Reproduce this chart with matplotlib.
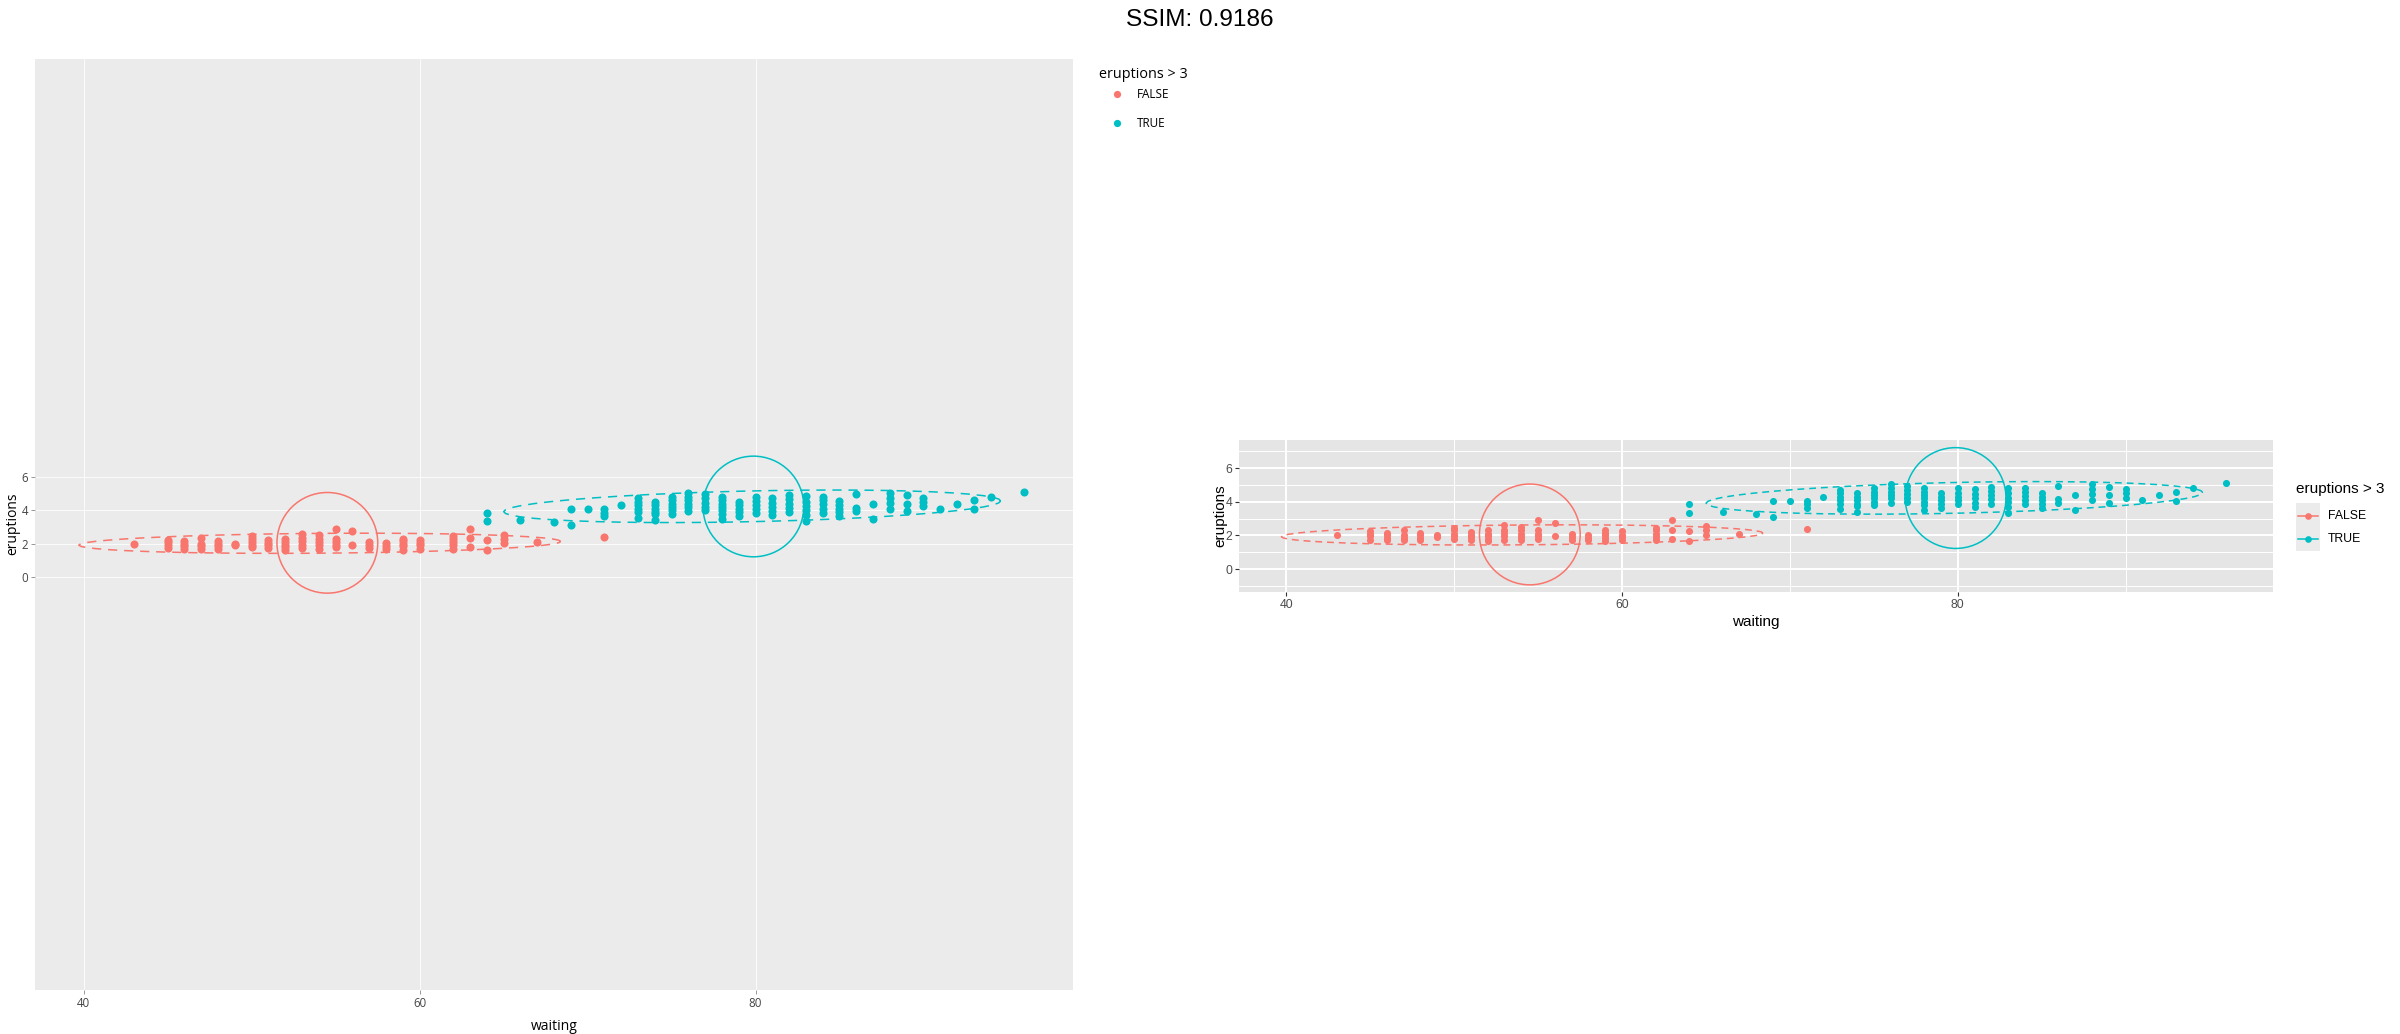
import numpy as np
import matplotlib.pyplot as plt
from matplotlib.patches import Circle, Rectangle
from matplotlib.lines import Line2D

# eruptions <= 3 : waiting columns and the eruption values stacked on each
false_waiting = [43, 45, 46, 47, 48, 49, 50, 51, 52, 53, 54, 55, 56, 57, 58,
                 59, 60, 62, 63, 64, 65, 67, 71]
false_eruptions = [
    [2.0],
    [1.75, 1.95, 2.1, 2.25],
    [1.7, 1.85, 2.0, 2.15],
    [1.7, 1.85, 2.0, 2.35],
    [1.7, 1.85, 2.0, 2.15],
    [1.93, 2.0],
    [1.8, 1.95, 2.1, 2.3, 2.45],
    [1.75, 1.9, 2.05, 2.2],
    [1.65, 1.8, 1.95, 2.1, 2.3],
    [1.75, 1.95, 2.15, 2.35, 2.6],
    [1.7, 1.9, 2.1, 2.3, 2.5],
    [1.8, 1.95, 2.1, 2.3, 2.9],
    [1.95, 2.75],
    [1.75, 1.9, 2.1],
    [1.7, 1.85, 2.05],
    [1.65, 1.85, 2.0, 2.15, 2.3],
    [1.7, 1.9, 2.05, 2.25],
    [1.7, 1.9, 2.1, 2.3, 2.45],
    [1.8, 2.35, 2.9],
    [1.65, 2.25],
    [2.05, 2.3, 2.55],
    [2.1],
    [2.4],
]

# eruptions > 3
true_waiting = [64, 66, 68, 69, 70, 71, 72, 73, 74, 75, 76, 77, 78, 79, 80,
                81, 82, 83, 84, 85, 86, 87, 88, 89, 90, 91, 92, 93, 94, 96]
true_eruptions = [
    [3.35, 3.85],
    [3.4],
    [3.3],
    [3.1, 4.05],
    [4.05],
    [3.65, 3.85, 4.05],
    [4.3],
    [3.55, 3.9, 4.1, 4.3, 4.5, 4.7],
    [3.4, 3.75, 3.9, 4.1, 4.3, 4.5],
    [3.8, 4.0, 4.2, 4.4, 4.6, 4.8],
    [3.95, 4.2, 4.4, 4.6, 4.8, 5.05],
    [4.0, 4.2, 4.45, 4.7, 4.95],
    [3.5, 3.8, 4.0, 4.2, 4.4, 4.6, 4.8],
    [3.65, 3.9, 4.1, 4.3, 4.5],
    [3.85, 4.1, 4.3, 4.55, 4.8],
    [3.7, 3.95, 4.2, 4.45, 4.75],
    [3.9, 4.15, 4.4, 4.65, 4.9],
    [3.35, 3.7, 4.0, 4.25, 4.5, 4.85],
    [3.85, 4.1, 4.35, 4.6, 4.8],
    [3.65, 3.9, 4.1, 4.3, 4.55],
    [3.95, 4.15, 4.95],
    [3.5, 4.4],
    [4.1, 4.45, 4.75, 5.05],
    [3.95, 4.4, 4.9],
    [4.25, 4.5, 4.75],
    [4.1],
    [4.4],
    [4.05, 4.6],
    [4.8],
    [5.1],
]

groups = ['FALSE', 'TRUE']
colors = ['#F8766D', '#00BFC4']
x_ticks = [40, 60, 80]
y_ticks = [0, 2, 4, 6]
legend_title = 'eruptions > 3'
title = 'SSIM: 0.9186'

W, H = 2400, 1034


def fbox(x0, y0, x1, y1):
    # pixel box (top-left origin) -> figure fraction rect
    return [x0 / W, 1 - y1 / H, (x1 - x0) / W, (y1 - y0) / H]


def fx(x):
    return x / W


def fy(y):
    return 1 - y / H


def flatten(cols, stacks):
    xs = np.array([c for c, s in zip(cols, stacks) for _ in s], dtype=float)
    ys = np.array([v for s in stacks for v in s], dtype=float)
    return xs, ys


def cov_trob(x, nu=5, maxit=25, tol=0.01):
    # robust t covariance, same iteration as MASS::cov.trob
    n, p = x.shape
    loc = x.mean(axis=0)
    w = np.ones(n)
    for _ in range(maxit):
        w0 = w
        X = x - loc
        _, d, vt = np.linalg.svd(np.sqrt(w / w.sum())[:, None] * X,
                                 full_matrices=False)
        wX = X @ vt.T / d
        Q = (wX ** 2).sum(axis=1)
        w = (nu + p) / (nu + Q)
        loc = (w[:, None] * x).sum(axis=0) / w.sum()
        if np.all(np.abs(w - w0) < tol):
            break
    cov = (np.sqrt(w)[:, None] * X).T @ (np.sqrt(w)[:, None] * X) / n
    return loc, cov


def stat_ellipse(x, y, level=0.95, segments=51):
    pts = np.column_stack([x, y])
    center, cov = cov_trob(pts)
    chol = np.linalg.cholesky(cov).T
    d = len(x) - 1
    fq = d / 2 * ((1 - level) ** (-2 / d) - 1)  # F(2, d) quantile
    radius = np.sqrt(2 * fq)
    t = np.linspace(0, 2 * np.pi, segments)
    unit = np.column_stack([np.cos(t), np.sin(t)])
    return center + radius * unit @ chol


data = [flatten(false_waiting, false_eruptions),
        flatten(true_waiting, true_eruptions)]

fig = plt.figure(figsize=(24, 10.34), dpi=100)
fig.text(0.5, fy(20), title, ha='center', va='center', fontsize=17.6,
         family='Liberation Sans')


def draw(ax, dot, dash, lw):
    for (xs, ys), col in zip(data, colors):
        ax.scatter(xs, ys, s=dot, color=col, linewidths=0, zorder=3)
        e = stat_ellipse(xs, ys)
        ax.plot(e[:, 0], e[:, 1], color=col, lw=lw, linestyle=(0, dash), zorder=4)
        ax.add_patch(Circle((xs.mean(), ys.mean()), 3, fill=False,
                            edgecolor=col, lw=lw, zorder=4))
    for s in ax.spines.values():
        s.set_visible(False)
    ax.set_xticks(x_ticks)
    ax.set_yticks(y_ticks)
    ax.set_axisbelow(True)


# ---- left panel (plotly look) ----
axl = fig.add_axes(fbox(35, 59, 1073, 990))
axl.set_facecolor('#EBEBEB')
draw(axl, 34, (6, 4.5), 1.1)
axl.set_xlim(37.11, 98.9)
axl.set_ylim(-24.6, 30.9)
axl.grid(True, color='white', lw=0.6)
axl.tick_params(length=3, width=0.6, color='#888888', labelcolor='#444444',
                labelsize=8.3, pad=2)
for lab in axl.get_xticklabels() + axl.get_yticklabels():
    lab.set_family('Open Sans')
fig.text(fx(554), fy(1026), 'waiting', ha='center', va='center',
         fontsize=10, family='Open Sans')
fig.text(fx(13), fy(524), 'eruptions', ha='center', va='center',
         rotation=90, fontsize=10, family='Open Sans')

fig.text(fx(1099), fy(75), legend_title, ha='left', va='center',
         fontsize=10.4, family='Open Sans')
for yy, g, col in zip([94.3, 123.3], groups, colors):
    fig.add_artist(Line2D([fx(1116.7)], [fy(yy)], marker='o', markersize=5.2,
                          color=col, markeredgewidth=0,
                          transform=fig.transFigure))
    fig.text(fx(1137), fy(yy), g, ha='left', va='center', fontsize=8.5,
             family='Open Sans')

# ---- right panel (ggplot look) ----
axr = fig.add_axes(fbox(1239, 440, 2272.7, 591.7))
axr.set_facecolor('#E5E5E5')
draw(axr, 26, (4.5, 3.2), 1.1)
axr.set_xlim(37.19, 98.76)
axr.set_ylim(-1.35, 7.68)
axr.set_xticks([50, 70, 90], minor=True)
axr.set_yticks([-1, 1, 3, 5, 7], minor=True)
axr.grid(True, which='major', color='white', lw=1.4)
axr.grid(True, which='minor', color='white', lw=0.7)
axr.tick_params(which='major', length=3.1, width=0.8, color='#333333',
                labelcolor='#4D4D4D', labelsize=8.8, pad=1.9)
axr.tick_params(which='minor', length=0)
for lab in axr.get_xticklabels() + axr.get_yticklabels():
    lab.set_family('Liberation Sans')
fig.text(fx(1756), fy(622), 'waiting', ha='center', va='center',
         fontsize=11, family='Liberation Sans')
fig.text(fx(1220), fy(516), 'eruptions', ha='center', va='center',
         rotation=90, fontsize=11, family='Liberation Sans')

fig.text(fx(2296), fy(489.3), legend_title, ha='left', va='center',
         fontsize=11, family='Liberation Sans')
fig.add_artist(Rectangle((fx(2296), fy(550.7)), fx(24), 48 / H,
                         facecolor='#EBEBEB', edgecolor='none',
                         transform=fig.transFigure))
for yy, g, col in zip([515.7, 539.3], groups, colors):
    fig.add_artist(Line2D([fx(2298), fx(2318)], [fy(yy), fy(yy)], lw=1.1,
                          color=col, transform=fig.transFigure))
    fig.add_artist(Line2D([fx(2308)], [fy(yy)], marker='o', markersize=4.8,
                          color=col, markeredgewidth=0,
                          transform=fig.transFigure))
    fig.text(fx(2327.7), fy(yy), g, ha='left', va='center', fontsize=8.8,
             family='Liberation Sans')

fig.savefig('out.png', dpi=100)
